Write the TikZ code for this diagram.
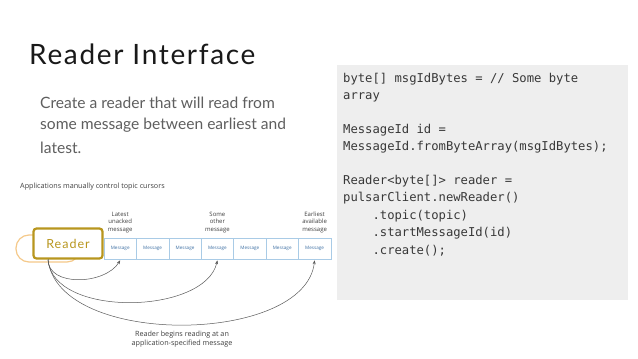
\documentclass[tikz,border=0pt]{standalone}
\usepackage{fontspec}
\setmainfont{Lato}
\newfontfamily\titlefont[LetterSpace=6]{Lato}
\newfontfamily\readerfont[LetterSpace=8]{Lato}
\newfontfamily\codefont{DejaVu Sans Mono}
\newfontfamily\diafont{Open Sans}
\usetikzlibrary{arrows.meta}
\definecolor{codebg}{HTML}{EEEEEE}
\definecolor{gold}{HTML}{B8961E}
\definecolor{lightorange}{HTML}{F5C98A}
\definecolor{msgborder}{HTML}{A9CBE6}
\definecolor{msgtext}{HTML}{3D6FA3}
\definecolor{bodygray}{HTML}{5F5F5F}
\definecolor{arrowgray}{HTML}{5A5A5A}
\tikzset{
  codeline/.style={anchor=west, inner sep=0pt, font=\codefont\fontsize{12.2}{14}\selectfont, text=black!78},
  bodyline/.style={anchor=west, inner sep=0pt, font=\fontsize{15.6}{18}\selectfont, text=bodygray},
  msgbox/.style={draw=msgborder, line width=0.6pt, minimum width=32.4pt, minimum height=21pt, inner sep=0pt, font=\diafont\fontsize{4.6}{5}\selectfont, text=msgtext},
  smalllabel/.style={font=\diafont\fontsize{6}{7.4}\selectfont, text=black!75, align=center, inner sep=0pt},
  cursor/.style={draw=arrowgray, line width=0.5pt, -{Stealth[length=4pt,width=3pt]}}
}
\begin{document}
\begin{tikzpicture}[x=1pt,y=-1pt]
\useasboundingbox[fill=white] (0,0) rectangle (638,359);
% title
\node[anchor=base west, inner sep=0pt, font=\titlefont\fontsize{28}{30}\selectfont, text=black!90] (title) at (29,64) {Reader Interface};
% body
\node[bodyline] (b1) at (40,103) {Create a reader that will read from};
\node[bodyline] (b2) at (40,125.5) {some message between earliest and};
\node[bodyline] (b3) at (40,148) {latest.};
% code box
\node[fill=codebg, minimum width=291pt, minimum height=235pt, anchor=north west, inner sep=0pt] (codebox) at (337,65) {};
\node[codeline] (c1) at (343,79) {byte[] msgIdBytes = // Some byte};
\node[codeline] (c2) at (343,97) {array};
\node[codeline] (c3) at (343,130.5) {MessageId id =};
\node[codeline] (c4) at (343,147.5) {MessageId.fromByteArray(msgIdBytes);};
\node[codeline] (c5) at (343,181) {Reader<byte[]> reader =};
\node[codeline] (c6) at (343,198) {pulsarClient.newReader()};
\node[codeline] (c7) at (343,216) {\ \ \ \ .topic(topic)};
\node[codeline] (c8) at (343,233) {\ \ \ \ .startMessageId(id)};
\node[codeline] (c9) at (343,250.5) {\ \ \ \ .create();};
% diagram
\node[anchor=west, inner sep=0pt, font=\diafont\fontsize{7.2}{8}\selectfont, text=black!75] (dtitle) at (20,187) {Applications manually control topic cursors};
\foreach \i in {1,...,7}{
  \node[msgbox] (m\i) at ({104+32.4*(\i-0.5)},248.5) {Message};
}
\node[smalllabel, anchor=south] (l1) at ([yshift=5pt]m1.north) {Latest\\unacked\\message};
\node[smalllabel, anchor=south] (l4) at ([yshift=5pt]m4.north) {Some\\other\\message};
\node[smalllabel, anchor=south] (l7) at ([yshift=5pt]m7.north) {Earliest\\available\\message};
% oval behind reader
\draw[lightorange, line width=1.2pt, rounded corners=13pt] (16,235) rectangle (80,262);
\node[draw=gold, fill=white, line width=2.2pt, rounded corners=3pt, minimum width=69pt, minimum height=30pt, inner sep=0pt, font=\readerfont\fontsize{12.5}{14}\selectfont, text=gold] (reader) at (68,243.5) {Reader};
\coordinate (start) at (48,259.5);
\draw[cursor] (start) .. controls (48,287) and (105,285) .. ([yshift=-1pt]m1.south);
\draw[cursor] (start) .. controls (52,318) and (205,315) .. ([yshift=-1pt]m4.south);
\draw[cursor] (start) .. controls (58,348) and (305,345) .. ([yshift=-1pt]m7.south);
\node[smalllabel, font=\diafont\fontsize{7.2}{8.6}\selectfont] (cap) at (182,339) {Reader begins reading at an\\application-specified message};
\end{tikzpicture}
\end{document}
